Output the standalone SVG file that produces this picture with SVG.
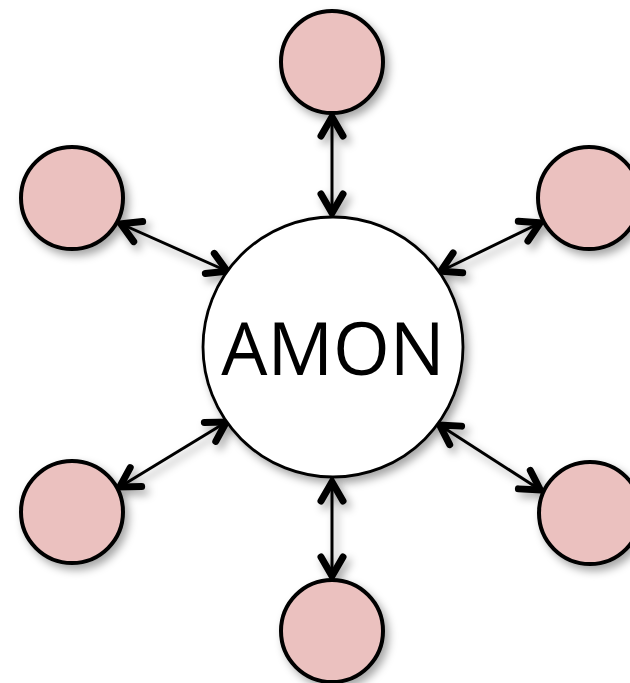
<svg xmlns="http://www.w3.org/2000/svg" width="630" height="683" viewBox="0 0 630 683">
<style>
.sat{fill:#EBC1BF;stroke:#000;stroke-width:4}
.hub{fill:#fff;stroke:#000;stroke-width:2.8}
.conn{stroke:#000;stroke-width:3;fill:none;marker-start:url(#ah);marker-end:url(#ah)}
.lbl{font-family:"Open Sans","DejaVu Sans",sans-serif;font-size:73px;fill:#000}
</style>
<defs>
<filter id="sh" x="-30%" y="-30%" width="160%" height="160%">
<feDropShadow dx="4" dy="5" stdDeviation="4" flood-color="#000" flood-opacity="0.35"/>
</filter>
<marker id="ah" markerUnits="userSpaceOnUse" viewBox="-30 -16 34 32" refX="0" refY="0" markerWidth="34" markerHeight="32" orient="auto-start-reverse">
<path d="M-21,-11 L-2,0 L-21,11" fill="none" stroke="#000" stroke-width="7" stroke-linecap="round" stroke-linejoin="miter"/>
</marker>
</defs>
<rect width="630" height="683" fill="#fff"/>
<g id="connectors" filter="url(#sh)">
<line class="conn" x1="332" y1="115" x2="332" y2="215"/>
<line class="conn" x1="119" y1="223" x2="229" y2="272"/>
<line class="conn" x1="542" y1="222" x2="439" y2="272"/>
<line class="conn" x1="118" y1="488" x2="228" y2="421"/>
<line class="conn" x1="542" y1="491" x2="438" y2="424"/>
<line class="conn" x1="332" y1="480" x2="332" y2="578"/>
</g>
<g id="hub" filter="url(#sh)">
<circle class="hub" cx="333" cy="347" r="130"/>
<text class="lbl" x="333" y="375" text-anchor="middle">AMON</text>
</g>
<g id="node-top" filter="url(#sh)"><circle class="sat" cx="332" cy="62" r="51"/></g>
<g id="node-top-left" filter="url(#sh)"><circle class="sat" cx="72" cy="198" r="51"/></g>
<g id="node-top-right" filter="url(#sh)"><circle class="sat" cx="589" cy="198" r="51"/></g>
<g id="node-bottom-left" filter="url(#sh)"><circle class="sat" cx="72" cy="512" r="51"/></g>
<g id="node-bottom-right" filter="url(#sh)"><circle class="sat" cx="590" cy="513" r="51"/></g>
<g id="node-bottom" filter="url(#sh)"><circle class="sat" cx="332" cy="631" r="51"/></g>
</svg>
